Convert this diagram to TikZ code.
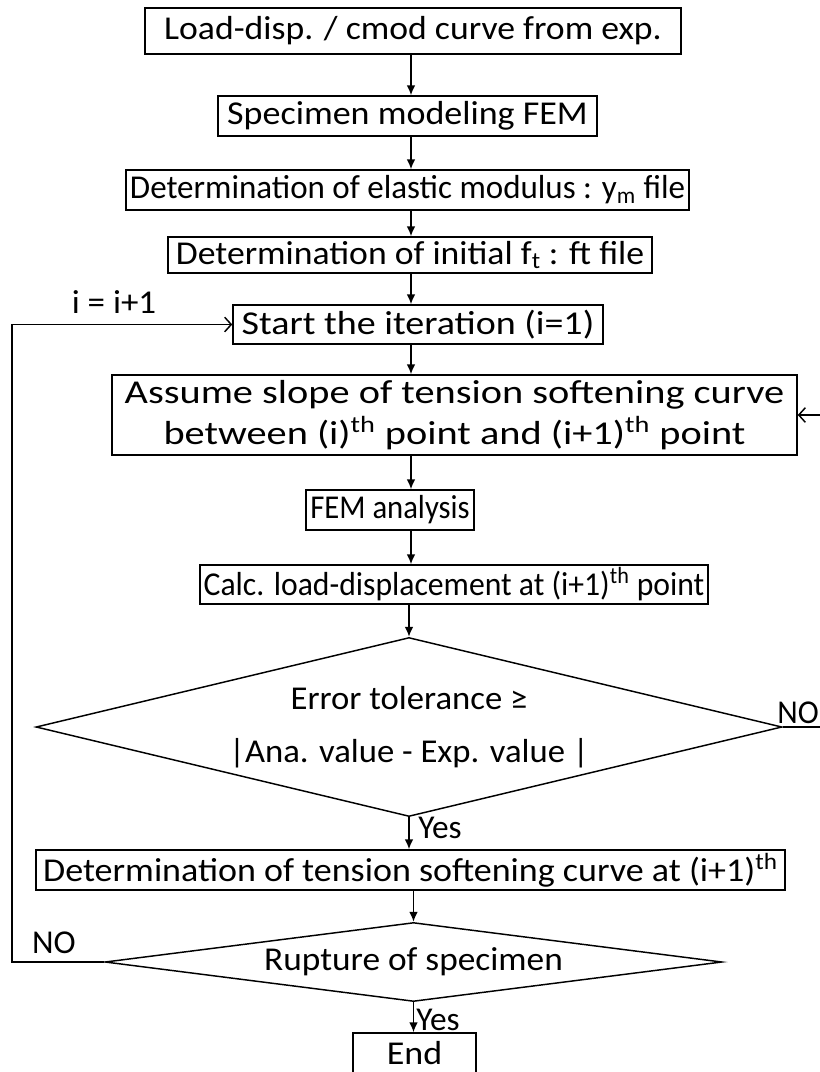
\documentclass[tikz,border=0pt]{standalone}
\usepackage{fontspec}
\usepackage{graphicx}
\setmainfont{Carlito}
\usetikzlibrary{arrows.meta,shapes.geometric}
\newcommand\hs[2]{\scalebox{#1}[1]{#2}}
\begin{document}
\begin{tikzpicture}[x=0.75pt,y=-0.75pt,
  txt/.style={font=\fontsize{25}{31}\selectfont},
  box/.style={txt,draw,line width=1.1pt,inner sep=0pt,align=center},
  dec/.style={txt,draw,diamond,line width=1.1pt,inner sep=0pt,align=center},
  arr/.style={line width=1.1pt,-{Latex[length=7.5pt,width=6.5pt]}},
  oarr/.style={line width=1.1pt,-{Straight Barb[length=5pt,width=11pt]}},
  lbl/.style={txt,inner sep=0pt}]
\useasboundingbox (0,0) rectangle (820,1072);
\node[box,minimum width=402pt,minimum height=34.5pt] (b1) at (413,31) {\hs{1.07}{Load-disp. / cmod curve from exp.}};
\node[box,minimum width=284.25pt,minimum height=30pt] (b2) at (407.5,116) {\hs{1.08}{Specimen modeling FEM}};
\node[box,minimum width=422.25pt,minimum height=30pt] (b3) at (407.5,190) {\hs{0.99}{Determination of elastic modulus : y\textsubscript{m} file}};
\node[box,minimum width=363pt,minimum height=27pt] (b4) at (410,255) {\hs{1.07}{Determination of initial f\textsubscript{t} : ft file}};
\node[box,minimum width=277.5pt,minimum height=29.25pt] (b5) at (418,324.5) {\hs{1.14}{Start the iteration (i=1)}};
\node[box,minimum width=513.75pt,minimum height=60pt] (b6) at (454.5,415) {\hs{1.21}{Assume slope of tension softening curve}\\\hs{1.21}{between (i)\textsuperscript{th} point and (i+1)\textsuperscript{th} point}};
\node[box,minimum width=126pt,minimum height=30pt] (b7) at (390,510) {\hs{0.92}{FEM analysis}};
\node[box,minimum width=381pt,minimum height=29.25pt] (b8) at (454,584.5) {\hs{0.95}{Calc. load-displacement at (i+1)\textsuperscript{th} point}};
\node[dec,shape aspect=4.17,minimum width=559.5pt,minimum height=134.25pt,font=\fontsize{25}{40}\selectfont] (d1) at (409,727) {\hs{1.04}{Error tolerance ≥}\\\hs{1.04}{|Ana. value - Exp. value |}};
\node[box,minimum width=561.75pt,minimum height=30pt] (b9) at (410.5,870) {\hs{1.08}{Determination of tension softening curve at (i+1)\textsuperscript{th}}};
\node[dec,shape aspect=7.81,minimum width=462.75pt,minimum height=59.25pt] (d2) at (413.5,962) {\hs{1.06}{Rupture of specimen}};
\node[box,minimum width=92.25pt,minimum height=30pt] (end) at (414.5,1053) {\hs{1.08}{End}};
\coordinate (ax) at (411,0);
\coordinate (lx) at (12,324.5);
\coordinate (rx) at (835,415);
\draw[arr] (b1.south -| ax) -- (b2.north -| ax);
\draw[arr] (b2.south -| ax) -- (b3.north -| ax);
\draw[arr] (b3.south -| ax) -- (b4.north -| ax);
\draw[arr] (b4.south -| ax) -- (b5.north -| ax);
\draw[arr] (b5.south -| ax) -- (b6.north -| ax);
\draw[arr] (b6.south -| ax) -- (b7.north -| ax);
\draw[arr] (b7.south -| ax) -- (b8.north -| ax);
\draw[arr] (b8.south -| d1.north) -- (d1.north);
\draw[arr] (d1.south) -- (b9.north -| d1.south);
\draw[arr] (b9.south -| d2.north) -- (d2.north);
\draw[arr] (d2.south) -- (end.north -| d2.south);
\draw[oarr] (d2.west) -| (lx) -- (b5.west);
\draw[oarr] (d1.east) -| (rx) -- (b6.east);
\node[lbl] (inc) at (114,302) {\hs{1.05}{i = i+1}};
\node[lbl] (no1) at (54,943) {NO};
\node[lbl,anchor=east] (no2) at (819,713) {\hs{0.95}{NO}};
\node[lbl,anchor=west] (yes1) at (418,828) {Yes};
\node[lbl,anchor=west] (yes2) at (416,1020) {Yes};
\end{tikzpicture}
\end{document}
